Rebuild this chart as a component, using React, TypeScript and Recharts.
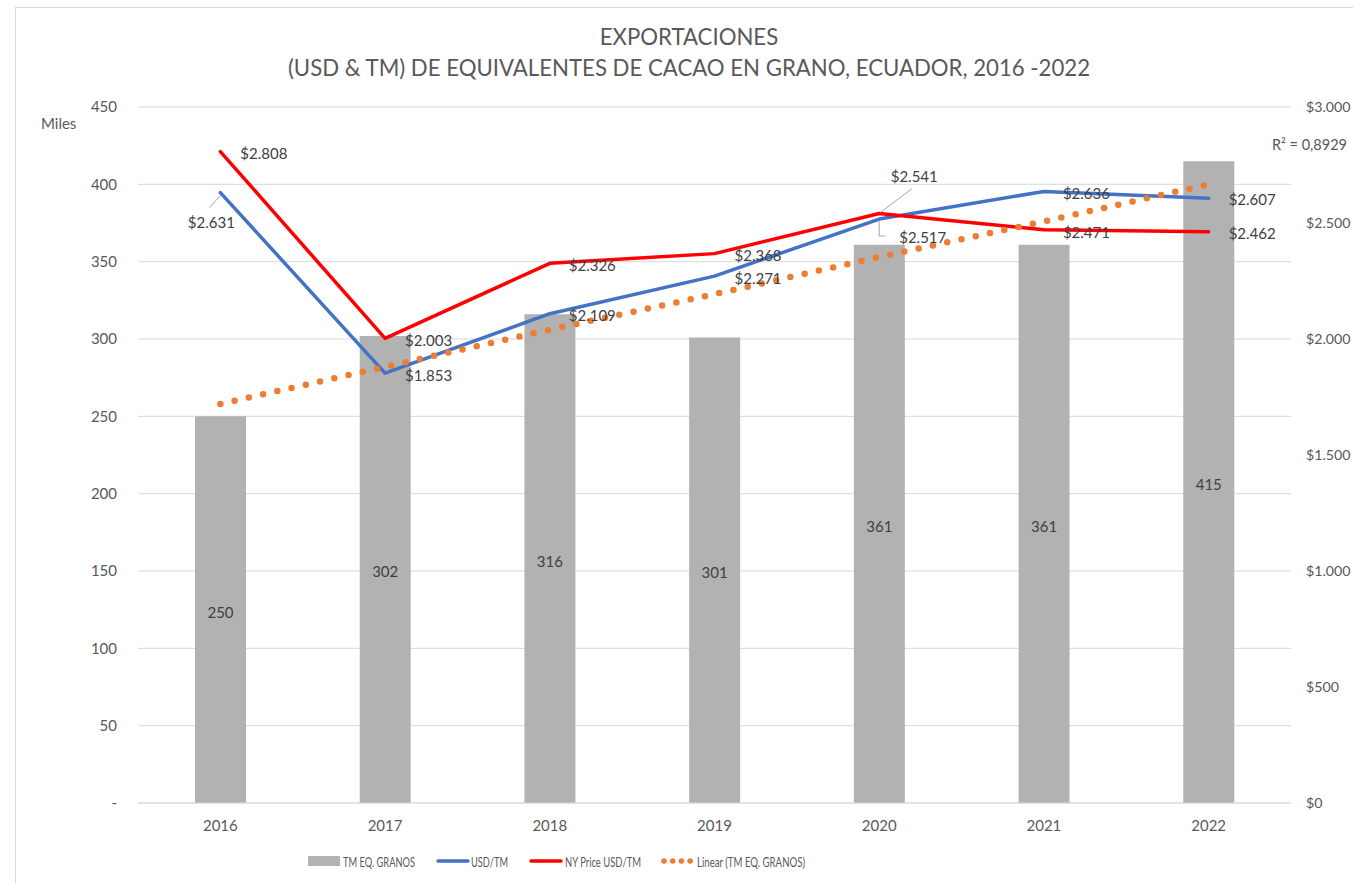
import React from 'react';
import { ComposedChart, Bar, Line, XAxis, YAxis, CartesianGrid, LabelList } from 'recharts';

// ---------- data ----------
const years = ['2016', '2017', '2018', '2019', '2020', '2021', '2022'];
const tmGranos = [250, 302, 316, 301, 361, 361, 415]; // miles TM
const usdTm = [2631, 1853, 2109, 2271, 2517, 2636, 2607];
const nyPrice = [2808, 2003, 2326, 2368, 2541, 2471, 2462];
const trendTm = [258, 282, 306, 329, 353, 376, 400]; // linear trend
const leftTicks = [0, 50, 100, 150, 200, 250, 300, 350, 400, 450];
const rightTicks = [0, 500, 1000, 1500, 2000, 2500, 3000];
const titleLines = ['EXPORTACIONES', '(USD & TM) DE EQUIVALENTES DE CACAO EN GRANO, ECUADOR, 2016 -2022'];
const r2Text = 'R² = 0,8929';
const legendNames = ['TM EQ. GRANOS', 'USD/TM', 'NY Price USD/TM', 'Linear (TM EQ. GRANOS)'];

const data = years.map((y, i) => ({
  year: y,
  tm: tmGranos[i],
  usd: usdTm[i],
  ny: nyPrice[i],
  trend: trendTm[i],
}));

// ---------- styles ----------
const FONT = 'Lato, "Open Sans", sans-serif';
const TEXT = '#595959';
const LABEL = '#404040';
const GRID = '#d9d9d9';
const BAR = '#b2b2b2';
const BLUE = '#4472c4';
const RED = '#ff0000';
const ORANGE = '#ed7d31';

const fmtThousands = (v: number) =>
  v >= 1000 ? `${Math.floor(v / 1000)}.${String(v % 1000).padStart(3, '0')}` : `${v}`;
const fmtDollar = (v: number) => `$${fmtThousands(v)}`;

type Off = { dx: number; dy: number; anchor: 'start' | 'middle' | 'end'; leader?: number[][] };

const usdLabelPos: Off[] = [
  { dx: -9, dy: 29.5, anchor: 'middle', leader: [[0, 3], [-11, 15]] },
  { dx: 20, dy: 2, anchor: 'start' },
  { dx: 19, dy: 1, anchor: 'start' },
  { dx: 20, dy: 2, anchor: 'start' },
  { dx: 20, dy: 18, anchor: 'start', leader: [[0, 2], [0, 17], [6, 17]] },
  { dx: 19, dy: 2, anchor: 'start' },
  { dx: 20, dy: 1, anchor: 'start' },
];
const nyLabelPos: Off[] = [
  { dx: 20, dy: 1.5, anchor: 'start' },
  { dx: 20, dy: 2, anchor: 'start' },
  { dx: 19, dy: 1.5, anchor: 'start' },
  { dx: 20, dy: 1, anchor: 'start' },
  { dx: 35, dy: -37, anchor: 'middle', leader: [[1, -1], [33, -25]] },
  { dx: 19, dy: 2, anchor: 'start' },
  { dx: 20, dy: 1, anchor: 'start' },
];

const makeLabel = (values: number[], pos: Off[]) => (props: any) => {
  const x = props.x ?? props.viewBox?.x;
  const y = props.y ?? props.viewBox?.y;
  const value = props.value;
  let idx = typeof props.index === 'number' ? props.index : values.indexOf(Number(value));
  if (idx < 0 || x == null || y == null) return null;
  const p = pos[idx];
  const v = values[idx];
  return (
    <g key={`lbl-${idx}-${v}`}>
      {p.leader && (
        <polyline
          points={p.leader.map(([lx, ly]) => `${x + lx},${y + ly}`).join(' ')}
          fill="none"
          stroke="#a6a6a6"
          strokeWidth={1}
        />
      )}
      <text
        x={x + p.dx}
        y={y + p.dy}
        textAnchor={p.anchor}
        dominantBaseline="central"
        fill={LABEL}
        fontSize={15}
        fontFamily={FONT}
      >
        {fmtDollar(v)}
      </text>
    </g>
  );
};

const barLabel = (props: any) => {
  const { x, y, width, height, value } = props;
  if (x == null) return null;
  return (
    <text
      x={x + width / 2}
      y={y + height / 2 + 2}
      textAnchor="middle"
      dominantBaseline="central"
      fill={LABEL}
      fontSize={15}
      fontFamily={FONT}
    >
      {value}
    </text>
  );
};

// legend geometry (style only)
const legendLayout = [
  { sx: 308, tx: 343, tw: 72, kind: 'bar', color: BAR },
  { sx: 437, tx: 471, tw: 37, kind: 'line', color: BLUE },
  { sx: 530, tx: 565, tw: 76, kind: 'line', color: RED },
  { sx: 662, tx: 697, tw: 108, kind: 'dots', color: ORANGE },
];

function LegendSvg() {
  const cy = 11;
  return (
    <svg width={1353} height={22} style={{ position: 'absolute', left: 0, top: 850 }}>
      {legendLayout.map((l, i) => (
        <g key={i}>
          {l.kind === 'bar' && <rect x={l.sx} y={cy - 5} width={32} height={10} fill={l.color} />}
          {l.kind === 'line' && (
            <line x1={l.sx + 1} x2={l.sx + 31} y1={cy} y2={cy} stroke={l.color} strokeWidth={3.5} strokeLinecap="round" />
          )}
          {l.kind === 'dots' &&
            [0, 1, 2, 3].map((k) => <circle key={k} cx={l.sx + 2 + k * 8.7} cy={cy} r={2.8} fill={l.color} />)}
          <text
            x={l.tx}
            y={cy}
            dominantBaseline="central"
            fontSize={14}
            fontFamily={FONT}
            fill={TEXT}
            textLength={l.tw}
            lengthAdjust="spacingAndGlyphs"
          >
            {legendNames[i]}
          </text>
        </g>
      ))}
    </svg>
  );
}

export default function App() {
  return (
    <div
      style={{
        position: 'fixed',
        left: 0,
        top: 0,
        width: 1353,
        height: 883,
        overflow: 'hidden',
        background: '#fff',
        fontFamily: FONT,
      }}
    >
      <div
        style={{
          position: 'absolute',
          left: 15,
          top: 7,
          width: 1400,
          height: 950,
          border: `1px solid ${GRID}`,
        }}
      />
      <div style={{ position: 'absolute', left: 0, top: 0 }}>
        <ComposedChart
          width={1353}
          height={883}
          data={data}
          margin={{ top: 107, right: 0, bottom: 50, left: 78 }}
        >
          <CartesianGrid yAxisId="left" vertical={false} stroke={GRID} strokeWidth={1} />
          <XAxis
            dataKey="year"
            height={30}
            axisLine={{ stroke: GRID, strokeWidth: 1 }}
            tickLine={false}
            tickSize={0}
            tickMargin={17}
            tick={{ fill: TEXT, fontSize: 15, fontFamily: FONT }}
          />
          <YAxis
            yAxisId="left"
            orientation="left"
            width={60}
            domain={[0, 450]}
            ticks={leftTicks}
            interval={0}
            axisLine={false}
            tickLine={false}
            tickSize={0}
            tickMargin={21}
            tickFormatter={(v: number) => (v === 0 ? '-' : String(v))}
            tick={{ fill: TEXT, fontSize: 15, fontFamily: FONT }}
          />
          <YAxis
            yAxisId="right"
            orientation="right"
            width={62}
            domain={[0, 3000]}
            ticks={rightTicks}
            interval={0}
            axisLine={false}
            tickLine={false}
            tickSize={0}
            tickMargin={15}
            tickFormatter={(v: number) => fmtDollar(v)}
            tick={{ fill: TEXT, fontSize: 14.2, fontFamily: FONT }}
          />
          <Bar yAxisId="left" dataKey="tm" fill={BAR} barSize={51} isAnimationActive={false}>
            <LabelList dataKey="tm" content={barLabel} />
          </Bar>
          <Line
            yAxisId="right"
            dataKey="usd"
            stroke={BLUE}
            strokeWidth={3.5}
            strokeLinejoin="round"
            strokeLinecap="round"
            dot={false}
            activeDot={false}
            isAnimationActive={false}
            label={makeLabel(usdTm, usdLabelPos)}
          />
          <Line
            yAxisId="right"
            dataKey="ny"
            stroke={RED}
            strokeWidth={3.5}
            strokeLinejoin="round"
            strokeLinecap="round"
            dot={false}
            activeDot={false}
            isAnimationActive={false}
            label={makeLabel(nyPrice, nyLabelPos)}
          />
          <Line
            yAxisId="left"
            dataKey="trend"
            stroke={ORANGE}
            strokeWidth={6.5}
            strokeDasharray="0 14.6"
            strokeLinecap="round"
            dot={false}
            activeDot={false}
            isAnimationActive={false}
          />
        </ComposedChart>
      </div>

      <div
        style={{
          position: 'absolute',
          left: 189,
          width: 1000,
          top: 21,
          textAlign: 'center',
          color: TEXT,
          fontSize: 22.2,
          lineHeight: '31px',
          fontFamily: FONT,
          whiteSpace: 'nowrap',
        }}
      >
        {titleLines.map((t) => (
          <div key={t}>{t}</div>
        ))}
      </div>

      <div style={{ position: 'absolute', left: 41, top: 113, fontSize: 15, lineHeight: '20px', color: TEXT, fontFamily: FONT }}>
        Miles
      </div>
      <div
        style={{
          position: 'absolute',
          right: 6,
          top: 135,
          fontSize: 14.5,
          lineHeight: '20px',
          color: TEXT,
          fontFamily: FONT,
          whiteSpace: 'nowrap',
        }}
      >
        {r2Text}
      </div>

      <LegendSvg />
    </div>
  );
}
